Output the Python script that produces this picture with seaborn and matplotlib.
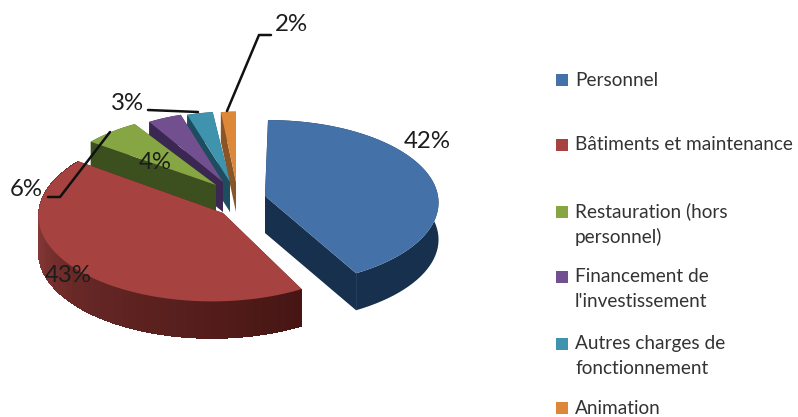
import numpy as np
import matplotlib
matplotlib.use('Agg')
import matplotlib.pyplot as plt
import seaborn as sns

# data
categories = ['Personnel', 'Bâtiments et maintenance', 'Restauration (hors\npersonnel)',
              "Financement de\nl'investissement", 'Autres charges de\nfonctionnement', 'Animation']
shares = [42, 43, 6, 4, 3, 2]

# style, one entry per slice
top_colors = ['#4472a8', '#a64340', '#86a644', '#72508f', '#3f93ad', '#dd8838']
wall_left = ['#17304d', '#8a3b39', '#3b4f1f', '#3a2852', '#1d4e60', '#8a5526']
wall_right = ['#17304d', '#471614', '#3b4f1f', '#3a2852', '#1d4e60', '#8a5526']
tips = [(265, 196), (223, 213), (216, 185), (223, 182), (230, 182), (236, 182)]
centers = [(268, 196), (212, 209), (216, 185), (223, 182), (230, 182), (236, 182)]
radii = [(170, 82), (173, 85), (162, 77), (147, 76), (149, 76), (130, 76)]
depths = [37, 37, 30, 30, 30, 30]
legend_y = [80, 145, 224, 289, 356, 408]
draw_order = [5, 4, 3, 2, 1, 0]
persp = 0.08

sns.set_theme(style='white')
plt.rcParams['font.family'] = ['Lato', 'DejaVu Sans']

fig = plt.figure(figsize=(7.98, 4.17), dpi=100)
ax = fig.add_axes([0, 0, 1, 1])
ax.set_xlim(0, 798)
ax.set_ylim(417, 0)
ax.axis('off')


def arc(center, radius, a0, a1, n=60):
    # angles are clockwise from 12 o'clock, nearer points are drawn a bit larger
    t = np.radians(np.linspace(a0, a1, n))
    s = 1 / (1 + persp * np.cos(t))
    return center[0] + radius[0] * np.sin(t) * s, center[1] - radius[1] * np.cos(t) * s


def draw_slice(i, a0, a1):
    tip = tips[i]
    d = depths[i]
    x, y = arc(centers[i], radii[i], a0, a1)
    # cut faces
    for px, py in [(x[0], y[0]), (x[-1], y[-1])]:
        ax.fill([tip[0], px, px, tip[0]], [tip[1], py, py + d, tip[1] + d],
                color=wall_right[i], lw=0)
    # outer wall: one smooth shape, then strips for the shading
    ax.fill(np.r_[x, x[::-1]], np.r_[y, y[::-1] + d], color=wall_right[i], lw=0)
    if wall_left[i] != wall_right[i]:
        pal = sns.blend_palette([wall_left[i], wall_right[i]], len(x) - 1)
        order = np.argsort(x[:-1])
        for rank, k in enumerate(order):
            ax.fill([x[k], x[k + 1], x[k + 1], x[k]], [y[k], y[k + 1], y[k + 1] + d, y[k] + d],
                    color=pal[rank], lw=0, antialiased=False)
    ax.fill(np.r_[tip[0], x], np.r_[tip[1], y], color=top_colors[i], lw=0)


ends = np.cumsum(shares) * 3.6
starts = np.r_[0, ends[:-1]]
for i in draw_order:
    draw_slice(i, starts[i], ends[i])

# leader lines
ax.plot([227, 259, 271], [111, 35, 35], color='#111111', lw=1.8)
ax.plot([148, 198], [110, 112], color='#111111', lw=1.8)
ax.plot([48, 60, 110], [197, 197, 132], color='#111111', lw=1.8)

# value labels
label_pos = [(427, 142), (68, 276), (26, 189), (155, 162), (127, 103), (291, 24)]
for share, (lx, ly) in zip(shares, label_pos):
    ax.text(lx, ly, f'{share}%', fontsize=17.3, color='#1c1c1c', ha='center', va='center')

# legend
for name, color, ly in zip(categories, top_colors, legend_y):
    first_y = ly - 12.5 if '\n' in name else ly
    ax.scatter([562], [first_y], marker='s', s=68, color=color, linewidths=0)
    ax.text(575, ly, name, fontsize=13.7, color='#333333', ha='left', va='center', linespacing=1.55)

fig.savefig('out.png', dpi=100, facecolor='white')
